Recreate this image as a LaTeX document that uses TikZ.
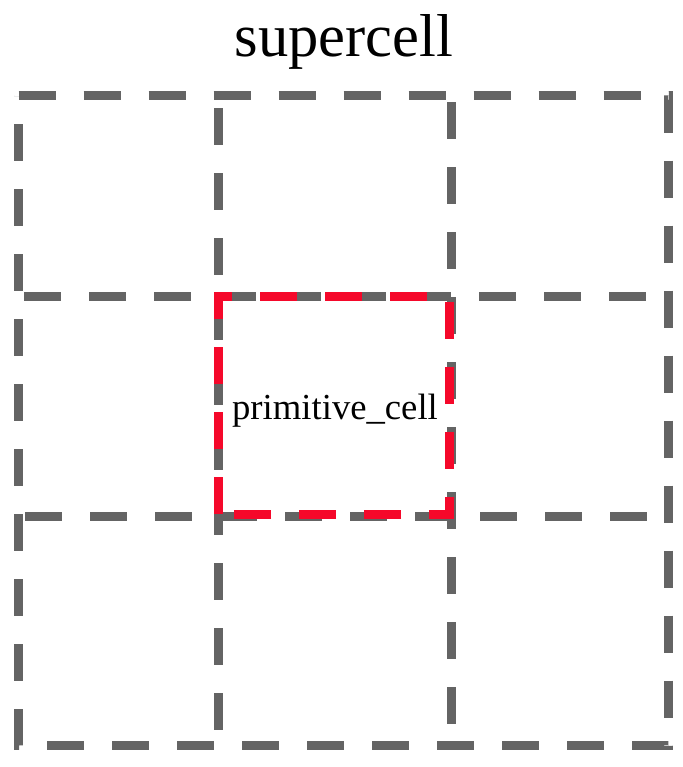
\documentclass[tikz,border=0pt]{standalone}
\usepackage{fontspec}
\setmainfont{Liberation Serif}
\definecolor{gridgrey}{RGB}{100,100,100}
\definecolor{cellred}{RGB}{245,8,42}
\tikzset{
  gridline/.style={draw=gridgrey, line width=6.75pt, line cap=butt, line join=miter,
    dash pattern=on 27.75pt off 21pt},
  redcell/.style={draw=cellred, line width=6.75pt, line cap=butt, line join=miter,
    dash pattern=on 27.75pt off 21pt},
}
\begin{document}
\begin{tikzpicture}[x=0.75pt,y=-0.75pt]
\useasboundingbox (0,0) rectangle (682,767);
% corner and grid points
\coordinate (TL) at (18.5,95.5);
\coordinate (TR) at (668.5,95.5);
\coordinate (BR) at (668.5,745.5);
\coordinate (BL) at (18.5,745.5);
\coordinate (v1t) at (218,96);   \coordinate (v1b) at (218,745);
\coordinate (v2t) at (451,96);   \coordinate (v2b) at (451,745);
\coordinate (h1l) at (19,296);   \coordinate (h1r) at (668,296);
\coordinate (h2l) at (19,516);   \coordinate (h2r) at (668,516);
% outer border of the supercell
\draw[gridline] (TL) -- (TR) -- (BR) -- (BL) -- cycle;
% inner grid lines
\draw[gridline, dash phase=39.75pt] (v1t) -- (v1b);
\draw[gridline, dash phase=44.25pt] (v2t) -- (v2b);
\draw[gridline, dash phase=45pt] (h1l) -- (h1r);
\draw[gridline, dash phase=44.25pt] (h2l) -- (h2r);
% primitive cell
\coordinate (pBL) at (218,514);
\coordinate (pTL) at (218,296);
\coordinate (pTR) at (449,296);
\coordinate (pBR) at (449,514);
\draw[redcell] (pBL) -- (pTL) -- (pTR) -- (pBR) -- cycle;
% labels
\node[anchor=base, inner sep=0pt, font=\fontsize{45.4}{50}\selectfont] (title) at (344,57) {supercell};
\node[anchor=base, inner sep=0pt, font=\fontsize{27.5}{32}\selectfont] (prim) at (335,419) {primitive\_cell};
\end{tikzpicture}
\end{document}
